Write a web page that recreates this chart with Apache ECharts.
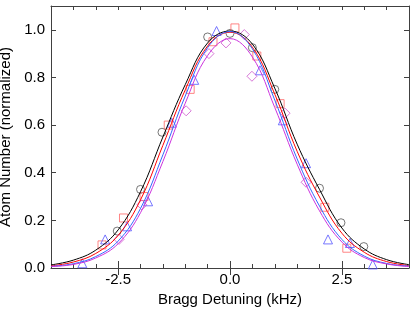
<!DOCTYPE html>
<html><head><meta charset="utf-8">
<script src="https://cdn.jsdelivr.net/npm/echarts@6/dist/echarts.min.js"></script>
<style>html,body{margin:0;padding:0;background:#fff}#c{width:415px;height:311px}</style>
</head><body><div id="c"></div>
<script>
// Measured points
var blackX = [-2.52, -2.0, -1.52, -0.5, 0.0, 0.5, 1.0, 2.0, 2.48, 2.99];
var blackY = [0.155, 0.33, 0.57, 0.97, 0.985, 0.925, 0.75, 0.335, 0.19, 0.09];
var redX = [-2.86, -2.38, -1.92, -1.38, -0.89, -0.38, 0.11, 0.6, 1.12, 2.12, 2.61];
var redY = [0.097, 0.21, 0.30, 0.60, 0.75, 0.95, 1.008, 0.89, 0.69, 0.255, 0.083];
var blueX = [-3.3, -2.79, -2.3, -1.83, -1.3, -0.8, -0.3, 0.67, 1.18, 1.7, 2.19, 2.68, 3.19];
var blueY = [0.02, 0.12, 0.175, 0.28, 0.61, 0.79, 0.995, 0.83, 0.62, 0.44, 0.12, 0.105, 0.015];
var magX = [-2.48, -1.97, -0.98, -0.47, -0.09, 0.32, 0.49, 1.23, 1.7];
var magY = [0.12, 0.265, 0.66, 0.90, 0.945, 0.98, 0.805, 0.65, 0.36];
// Fit curves at 0.5 kHz steps
var fitX = [-4, -3.5, -3, -2.5, -2, -1.5, -1, -0.5, 0, 0.5, 1, 1.5, 2, 2.5, 3, 3.5, 4];
var fitBlack = [0.013, 0.033, 0.075, 0.16, 0.32, 0.55, 0.77, 0.945, 0.995, 0.94, 0.755, 0.52, 0.33, 0.168, 0.08, 0.035, 0.014];
var fitRed = [0.009, 0.025, 0.061, 0.137, 0.286, 0.515, 0.748, 0.932, 0.99, 0.927, 0.73, 0.49, 0.298, 0.146, 0.066, 0.027, 0.01];
var fitBlue = [0.007, 0.018, 0.048, 0.113, 0.25, 0.475, 0.722, 0.925, 0.993, 0.92, 0.705, 0.458, 0.26, 0.12, 0.05, 0.019, 0.008];
var fitMag = [0.006, 0.015, 0.042, 0.102, 0.232, 0.447, 0.692, 0.892, 0.963, 0.886, 0.674, 0.436, 0.24, 0.109, 0.044, 0.017, 0.006];
var xMajorTicks = [-2.5, 0, 2.5];

function pairs(xs, ys) { return xs.map(function (x, i) { return [x, ys[i]]; }); }

var axisCol = '#404040';
var font = 'Liberation Sans, Arial, sans-serif';
function scatter(name, xs, ys, sym, col, size) {
  return { name: name, type: 'scatter', data: pairs(xs, ys), symbol: sym, symbolSize: size,
    itemStyle: { color: 'rgba(0,0,0,0)', borderColor: col, borderWidth: 1 }, z: 3 };
}
function fit(name, ys, col) {
  return { name: name, type: 'line', data: pairs(fitX, ys), smooth: 0.4, symbol: 'none',
    lineStyle: { color: col, width: 1 }, z: 4 };
}
var chart = echarts.init(document.getElementById('c'), null, { renderer: 'canvas' });
chart.setOption({
  animation: false,
  grid: { left: 51, right: 6, top: 6, bottom: 43, containLabel: false, outerBoundsMode: 'none' },
  xAxis: [
    { type: 'value', min: -4, max: 4, interval: 0.5, position: 'bottom',
      name: 'Bragg Detuning (kHz)', nameLocation: 'middle', nameGap: 22,
      nameTextStyle: { fontFamily: font, fontSize: 15, color: '#000' },
      axisLine: { show: true, onZero: false, lineStyle: { color: axisCol, width: 1 } },
      axisTick: { show: true, inside: true, length: 4, lineStyle: { color: axisCol } },
      axisLabel: { customValues: xMajorTicks, formatter: function (v) { return v.toFixed(1); },
        fontFamily: font, fontSize: 15, color: '#000', margin: 4 },
      splitLine: { show: false } },
    { type: 'value', min: -4, max: 4, interval: 0.5, position: 'top',
      axisLine: { show: true, onZero: false, lineStyle: { color: axisCol, width: 1 } },
      axisTick: { show: true, inside: true, length: 4, lineStyle: { color: axisCol } },
      axisLabel: { show: false }, splitLine: { show: false } },
    { type: 'value', min: -4, max: 4, interval: 0.5, position: 'bottom',
      axisLine: { show: false },
      axisTick: { show: true, inside: true, length: 7, customValues: xMajorTicks, lineStyle: { color: axisCol } },
      axisLabel: { show: false }, splitLine: { show: false } },
    { type: 'value', min: -4, max: 4, interval: 0.5, position: 'top',
      axisLine: { show: false },
      axisTick: { show: true, inside: true, length: 7, customValues: xMajorTicks, lineStyle: { color: axisCol } },
      axisLabel: { show: false }, splitLine: { show: false } }
  ],
  yAxis: [
    { type: 'value', min: 0, max: 1.1, interval: 0.2, position: 'left',
      name: 'Atom Number (normalized)', nameLocation: 'middle', nameGap: 27,
      nameTextStyle: { fontFamily: font, fontSize: 15, color: '#000' },
      axisLine: { show: true, onZero: false, lineStyle: { color: axisCol, width: 1 } },
      axisTick: { show: true, inside: true, length: 5, lineStyle: { color: axisCol } },
      axisLabel: { showMaxLabel: false, formatter: function (v) { return v > 1.05 ? '' : v.toFixed(1); },
        fontFamily: font, fontSize: 15, color: '#000', margin: 6 },
      splitLine: { show: false } },
    { type: 'value', min: 0, max: 1.1, interval: 0.2, position: 'right',
      axisLine: { show: true, onZero: false, lineStyle: { color: axisCol, width: 1 } },
      axisTick: { show: true, inside: true, length: 5, lineStyle: { color: axisCol } },
      axisLabel: { show: false }, splitLine: { show: false } }
  ],
  series: [
    scatter('black pts', blackX, blackY, 'circle', '#555555', 8),
    scatter('red pts', redX, redY, 'rect', '#ff6666', 8),
    scatter('blue pts', blueX, blueY, 'triangle', '#5555ff', 9),
    scatter('magenta pts', magX, magY, 'diamond', '#cc55cc', 10),
    fit('black fit', fitBlack, '#000000'),
    fit('red fit', fitRed, '#ff0000'),
    fit('blue fit', fitBlue, '#3366ff'),
    fit('magenta fit', fitMag, '#cc33dd')
  ]
});
</script></body></html>
